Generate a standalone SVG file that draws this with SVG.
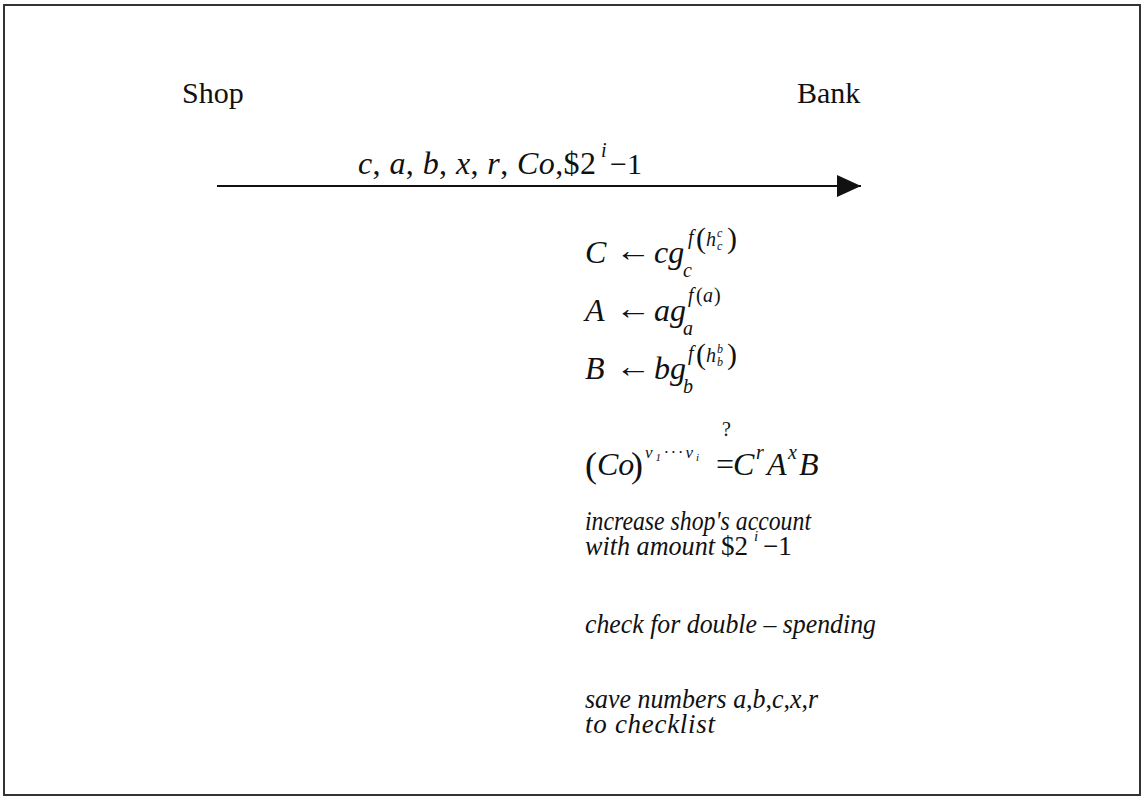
<svg xmlns="http://www.w3.org/2000/svg" width="1144" height="802" viewBox="0 0 1144 802">
<defs>
<marker id="ah" markerWidth="24" markerHeight="22" refX="24" refY="11" orient="auto" markerUnits="userSpaceOnUse">
<path d="M0,0 L24,11 L0,22 Z" fill="#111"/>
</marker>
<style>
text{font-family:"Liberation Serif","Times New Roman",serif;fill:#111}
.t{font-style:normal}
.i{font-style:italic}
.m{font-size:32px}
.s{font-size:20px}
.ss{font-size:12px}
.p{font-size:30px;font-style:normal}
.b{font-size:27px;font-style:italic}
</style>
</defs>
<rect x="0" y="0" width="1144" height="802" fill="#fff"/>
<rect x="4" y="5" width="1136" height="790" fill="none" stroke="#333" stroke-width="2"/>

<g id="shop"><text class="t" x="182" y="103" font-size="30">Shop</text></g>
<g id="bank"><text class="t" x="797" y="103" font-size="30">Bank</text></g>

<g id="connectors">
<line x1="217" y1="186" x2="861" y2="186" stroke="#111" stroke-width="2.2" marker-end="url(#ah)"/>
</g>
<g id="message-label">
<text class="i m" x="358" y="174" textLength="238">c<tspan class="t">, </tspan>a<tspan class="t">, </tspan>b<tspan class="t">, </tspan>x<tspan class="t">, </tspan>r<tspan class="t">, </tspan>Co<tspan class="t">,$2</tspan></text>
<text class="i s" x="601" y="157">i</text>
<text class="t" font-size="30" x="610" y="174">−1</text>
</g>

<g id="bank-computation">
<text class="i m" x="585" y="263">C</text>
<text class="t m" x="615" y="261" textLength="36" lengthAdjust="spacingAndGlyphs">←</text>
<text class="i m" x="654" y="263">cg</text>
<text class="i s" x="688" y="244">f</text>
<text class="p" x="696" y="248">(</text>
<text class="i s" x="706" y="246">h</text>
<text class="i ss" x="717" y="237">c</text>
<text class="i ss" x="717" y="250">c</text>
<text class="p" x="727" y="248">)</text>
<text class="i s" x="683" y="277">c</text>

<text class="i m" x="585" y="321">A</text>
<text class="t m" x="615" y="319" textLength="36" lengthAdjust="spacingAndGlyphs">←</text>
<text class="i m" x="654" y="321">ag</text>
<text class="i s" x="688" y="302">f</text>
<text class="t s" x="696" y="302">(</text>
<text class="i s" x="703" y="302">a</text>
<text class="t s" x="714" y="302">)</text>
<text class="i s" x="683" y="335">a</text>

<text class="i m" x="585" y="379">B</text>
<text class="t m" x="615" y="377" textLength="36" lengthAdjust="spacingAndGlyphs">←</text>
<text class="i m" x="654" y="379">bg</text>
<text class="i s" x="688" y="360">f</text>
<text class="p" x="696" y="364">(</text>
<text class="i s" x="706" y="362">h</text>
<text class="i ss" x="717" y="353">b</text>
<text class="i ss" x="717" y="366">b</text>
<text class="p" x="727" y="364">)</text>
<text class="i s" x="683" y="393">b</text>

<text class="t" font-size="20" x="722" y="436">?</text>
<text class="t" font-size="36" x="585" y="477">(</text>
<text class="i m" x="597" y="475">Co</text>
<text class="t" font-size="36" x="631" y="477">)</text>
<text class="i" font-size="17" x="645" y="458" textLength="54">v<tspan font-size="11" dy="3">1</tspan><tspan dy="-3">···</tspan>v<tspan font-size="11" dy="3">i</tspan></text>
<text class="t m" x="716" y="475">=</text>
<text class="i m" x="733" y="475">C</text>
<text class="i s" x="756" y="459">r</text>
<text class="i m" x="767" y="475">A</text>
<text class="i s" x="788" y="459">x</text>
<text class="i m" x="799" y="475">B</text>

<text class="b" x="585" y="530" textLength="226" lengthAdjust="spacingAndGlyphs">increase shop's account</text>
<text class="b" x="585" y="555" textLength="130" lengthAdjust="spacingAndGlyphs">with amount</text>
<text class="t" font-size="27" x="721" y="555">$2</text>
<text class="i" font-size="15" x="754" y="541">i</text>
<text class="t" font-size="27" x="763" y="555">−1</text>

<text class="b" x="585" y="633" textLength="291" lengthAdjust="spacingAndGlyphs">check  for double – spending</text>

<text class="b" x="585" y="708" textLength="233" lengthAdjust="spacingAndGlyphs">save numbers a<tspan class="t">,</tspan>b<tspan class="t">,</tspan>c<tspan class="t">,</tspan>x<tspan class="t">,</tspan>r</text>
<text class="b" x="585" y="733" textLength="130">to checklist</text>
</g>
</svg>
